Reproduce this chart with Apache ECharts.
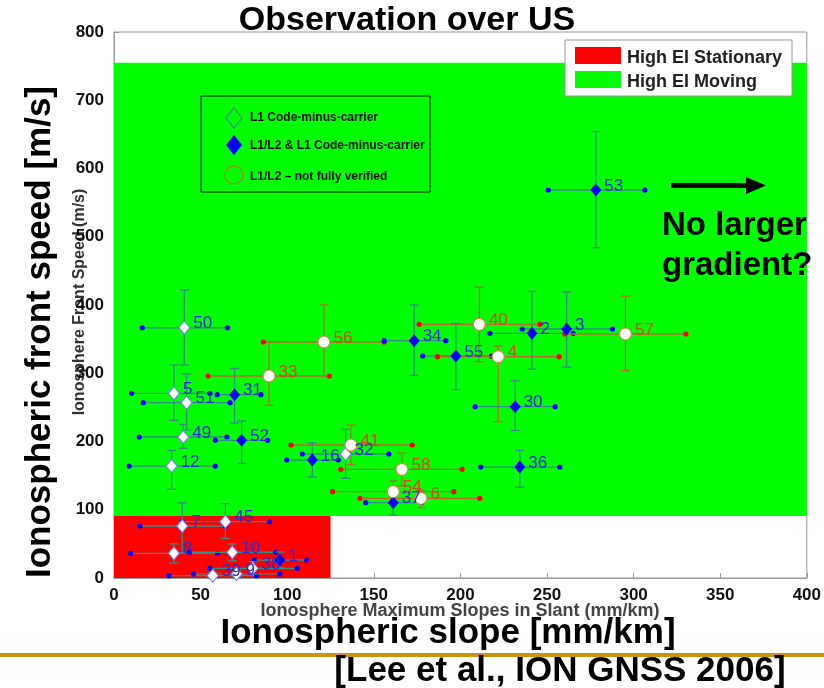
<!DOCTYPE html>
<html><head><meta charset="utf-8">
<script src="https://cdn.jsdelivr.net/npm/echarts@6/dist/echarts.min.js"></script>
<style>html,body{margin:0;padding:0;background:#fff}#c{width:824px;height:688px}</style>
</head><body><div id="c"></div>
<script>
// ---- data ----
const pointIds   = ['50','5','51','31','33','49','52','12','7','45','8','10','1','38','39','9','56','34','41','32','16','58','54','37','6','40','55','4','2','3','57','30','36','53'];
const pointTypes = ['L1','L1','L1','L12','NV','L1','L12','L1','L1','L1','L1','L1','L12','L1','L1','L1','NV','L12','NV','L1','L12','NV','NV','L12','NV','NV','L12','NV','L12','L12','NV','L12','L12','L12'];
const slope      = [40.6,34.6,41.9,69.6,89.5,40.0,73.7,33.3,39.4,64.3,34.6,68.3,95.8,80.0,57.0,70.8,121.2,173.3,136.8,133.7,114.5,166.2,161.2,161.2,177.2,210.9,197.4,221.8,241.3,261.3,295.3,231.6,234.3,278.2];
const slopeLow   = [16.3,10.2,16.9,59.6,54.3,14.6,58.5,8.8,15.0,39.4,9.6,43.5,81.0,55.4,31.7,45.8,86.2,156.0,102.2,108.7,99.7,130.9,126.2,145.3,142.0,176.2,178.2,186.8,217.0,235.7,260.3,208.5,211.8,250.7];
const slopeHigh  = [65.6,55.4,67.0,84.8,124.3,65.2,88.7,58.5,64.3,89.7,59.8,93.5,111.2,105.8,82.3,95.8,156.0,191.6,172.2,158.7,129.5,201.0,196.2,177.6,211.2,245.9,218.0,257.0,265.1,287.8,330.2,254.7,257.4,306.5];
const speed      = [366.7,270.6,256.9,268.6,296,206.6,201.7,164,76.2,82.5,36.1,37.7,26.4,14.2,3.4,5.9,345.8,347.7,194.9,181.7,172.9,159.2,126.5,110.3,116.8,371.7,325.3,324.3,358.5,364.8,357.5,251,162.6,568.5];
const speedLow   = [312,231,217,227,253,190,168,130,37,58,22,25,15,5,0,0,296,297,166,146,148,135,112,92,103,317,276,229,306,309,304,216,133,484];
const speedHigh  = [422,312,299,307,346,225,230,187,110,109,50,50,38,24,8,12,400,400,224,218,198,183,142,126,129,426,373,340,420,419,413,289,187,654];
const stationarySlope = [0,125];
const stationarySpeed = [0,91];
const movingSlope = [0,400];
const movingSpeed = [91,755];
const xRange = [0,400], xStep = 50;
const yRange = [0,800], yStep = 100;

const FONT = '"Liberation Sans", Arial, sans-serif';
const typeStyle = {
  L1:  {line:'#2f8f80', dot:'#0000ff', label:'#2a2ad8'},
  L12: {line:'#2f8f80', dot:'#0000ff', label:'#2a2ad8'},
  NV:  {line:'#b86a2a', dot:'#ff0000', label:'#d8461a'}
};

const typeKeys = ['L1','L12','NV'];
const barData = pointIds.map((id,i)=>[slope[i],speed[i],slopeLow[i],slopeHigh[i],speedLow[i],speedHigh[i],typeKeys.indexOf(pointTypes[i])]);

function pts(t){
  const out=[];
  pointIds.forEach((id,i)=>{ if(pointTypes[i]===t) out.push({name:id,value:[slope[i],speed[i]]}); });
  return out;
}

const chart = echarts.init(document.getElementById('c'), null, {renderer:'canvas'});
const labelCfg = (color)=>({show:true,position:'right',distance:3,offset:[0,-4],formatter:'{b}',color:color,fontSize:17,fontFamily:FONT});

chart.setOption({
  animation:false,
  backgroundColor:'#fff',
  grid:{left:114,right:17,top:32,bottom:110,show:true,borderColor:'#9a9a9a',borderWidth:1,backgroundColor:'transparent'},
  xAxis:{type:'value',min:xRange[0],max:xRange[1],interval:xStep,
    axisLine:{lineStyle:{color:'#9a9a9a'}},axisTick:{inside:true,length:5,lineStyle:{color:'#9a9a9a'}},
    splitLine:{show:false},axisLabel:{color:'#111',fontWeight:'bold',fontSize:17,fontFamily:FONT,margin:9}},
  yAxis:{type:'value',min:yRange[0],max:yRange[1],interval:yStep,
    axisLine:{show:true,lineStyle:{color:'#9a9a9a'}},axisTick:{show:true,inside:true,length:5,lineStyle:{color:'#9a9a9a'}},
    splitLine:{show:false},axisLabel:{color:'#111',fontWeight:'bold',fontSize:17,fontFamily:FONT,margin:10}},
  series:[
    {type:'custom',name:'regions',silent:true,z:1,data:[],renderItem:()=>null,
      markArea:{silent:true,data:[
        [{xAxis:movingSlope[0],yAxis:movingSpeed[0],itemStyle:{color:'#00ff00'}},{xAxis:movingSlope[1],yAxis:movingSpeed[1]}],
        [{xAxis:stationarySlope[0],yAxis:stationarySpeed[0],itemStyle:{color:'#ff0000'}},{xAxis:stationarySlope[1],yAxis:stationarySpeed[1]}]
      ]}},
    {type:'custom',name:'errorbars',z:3,data:barData,
      renderItem:function(params,api){
        const t=typeKeys[api.value(6)], st=typeStyle[t];
        const l=api.coord([api.value(2),api.value(1)]);
        const h=api.coord([api.value(3),api.value(1)]);
        const lo=api.coord([api.value(0),api.value(4)]);
        const hi=api.coord([api.value(0),api.value(5)]);
        const ls={stroke:st.line,lineWidth:1.3};
        return {type:'group',children:[
          {type:'line',shape:{x1:l[0],y1:l[1],x2:h[0],y2:h[1]},style:ls},
          {type:'line',shape:{x1:lo[0],y1:lo[1],x2:hi[0],y2:hi[1]},style:ls},
          {type:'line',shape:{x1:lo[0]-4.5,y1:lo[1],x2:lo[0]+4.5,y2:lo[1]},style:ls},
          {type:'line',shape:{x1:hi[0]-4.5,y1:hi[1],x2:hi[0]+4.5,y2:hi[1]},style:ls},
          {type:'circle',shape:{cx:l[0],cy:l[1],r:2.6},style:{fill:st.dot}},
          {type:'circle',shape:{cx:h[0],cy:h[1],r:2.6},style:{fill:st.dot}}
        ]};
      }},
    {type:'scatter',name:'L1 Code-minus-carrier',z:5,data:pts('L1'),symbol:'diamond',symbolSize:[11,13],
      itemStyle:{color:'#ffffff',borderColor:'#7a7aff',borderWidth:1,opacity:1},label:labelCfg(typeStyle.L1.label)},
    {type:'scatter',name:'L1/L2 & L1 Code-minus-carrier',z:5,data:pts('L12'),symbol:'diamond',symbolSize:[11,13],
      itemStyle:{color:'#0000ff',opacity:1},label:labelCfg(typeStyle.L12.label)},
    {type:'scatter',name:'L1/L2 - not fully verified',z:5,data:pts('NV'),symbol:'circle',symbolSize:12,
      itemStyle:{color:'#ffffff',borderColor:'#d08a50',borderWidth:1.2,opacity:1},label:labelCfg(typeStyle.NV.label)}
  ],
  graphic:[
    {type:'text',x:407,y:21,style:{text:'Observation over US',font:'bold 34px '+FONT,fill:'#000',textAlign:'center',textVerticalAlign:'middle'}},
    {type:'text',x:80,y:302,rotation:Math.PI/2,style:{text:'Ionosphere Front Speed (m/s)',font:'bold 16px '+FONT,fill:'#333',textAlign:'center',textVerticalAlign:'middle'}},
    {type:'text',x:460,y:611,style:{text:'Ionosphere Maximum Slopes in Slant (mm/km)',font:'bold 18px '+FONT,fill:'#444',textAlign:'center',textVerticalAlign:'middle'}},
    {type:'text',x:40,y:332,rotation:Math.PI/2,style:{text:'Ionospheric front speed [m/s]',font:'bold 35px '+FONT,fill:'#000',textAlign:'center',textVerticalAlign:'middle'}},
    {type:'text',x:448,y:633,style:{text:'Ionospheric slope [mm/km]',font:'bold 35px '+FONT,fill:'#000',textAlign:'center',textVerticalAlign:'middle'}},
    {type:'rect',shape:{x:0,y:653,width:824,height:4},style:{fill:'#c8960a'}},
    {type:'text',x:560,y:671,style:{text:'[Lee et al., ION GNSS 2006]',font:'bold 35px '+FONT,fill:'#000',textAlign:'center',textVerticalAlign:'middle'}},
    // top-right region legend
    {type:'rect',z:20,shape:{x:565,y:40,width:227,height:56},style:{fill:'#fff',stroke:'#999',lineWidth:1}},
    {type:'rect',z:21,shape:{x:575,y:47,width:46,height:17},style:{fill:'#ff0000'}},
    {type:'rect',z:21,shape:{x:575,y:71,width:46,height:17},style:{fill:'#00ff00'}},
    {type:'text',z:21,x:627,y:58,style:{text:'High El Stationary',font:'bold 18px '+FONT,fill:'#222',textVerticalAlign:'middle'}},
    {type:'text',z:21,x:627,y:82,style:{text:'High El Moving',font:'bold 18px '+FONT,fill:'#222',textVerticalAlign:'middle'}},
    // marker legend
    {type:'rect',z:20,shape:{x:201,y:96,width:229,height:96},style:{fill:'#00ff00',stroke:'#111',lineWidth:1}},
    {type:'polygon',z:21,shape:{points:[[234,108],[242,118],[234,128],[226,118]]},style:{fill:'none',stroke:'#2f8f80',lineWidth:1.2}},
    {type:'polygon',z:21,shape:{points:[[234,135],[242,145],[234,155],[226,145]]},style:{fill:'#0000ff'}},
    {type:'circle',z:21,shape:{cx:234,cy:175,r:9},style:{fill:'none',stroke:'#b07a20',lineWidth:1.2}},
    {type:'text',z:21,x:250,y:118,style:{text:'L1 Code-minus-carrier',font:'bold 12px '+FONT,fill:'#111',textVerticalAlign:'middle'}},
    {type:'text',z:21,x:250,y:146,style:{text:'L1/L2 & L1 Code-minus-carrier',font:'bold 12px '+FONT,fill:'#111',textVerticalAlign:'middle'}},
    {type:'text',z:21,x:250,y:177,style:{text:'L1/L2 \u2013 not fully verified',font:'bold 12px '+FONT,fill:'#111',textVerticalAlign:'middle'}},
    // annotation
    {type:'rect',z:20,shape:{x:671,y:183,width:78,height:5},style:{fill:'#000'}},
    {type:'polygon',z:20,shape:{points:[[746,177],[766,185.5],[746,194]]},style:{fill:'#000'}},
    {type:'text',z:20,x:662,y:226,style:{text:'No larger',font:'bold 33px '+FONT,fill:'#000',textVerticalAlign:'middle'}},
    {type:'text',z:20,x:662,y:266,style:{text:'gradient?',font:'bold 33px '+FONT,fill:'#000',textVerticalAlign:'middle'}}
  ]
});
</script></body></html>
